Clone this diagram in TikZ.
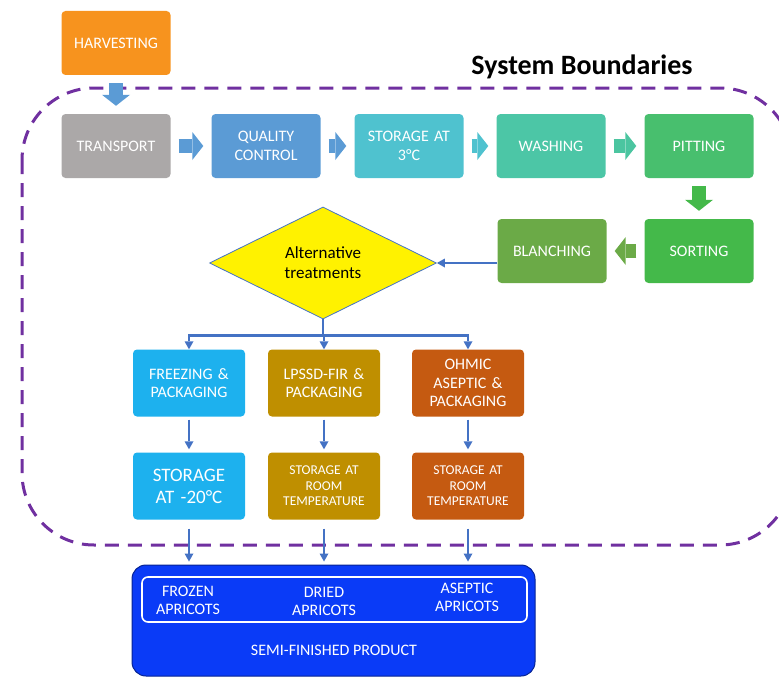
\documentclass[tikz,border=0pt]{standalone}
\usepackage{fontspec}
\setmainfont{Carlito}
\usetikzlibrary{positioning, shapes.geometric, arrows.meta, calc}

\definecolor{harvestOrange}{HTML}{F7931E}
\definecolor{transGray}{HTML}{ABA8A8}
\definecolor{qcBlue}{HTML}{5B9BD5}
\definecolor{coldCyan}{HTML}{4FC2CF}
\definecolor{washTeal}{HTML}{4CC6A6}
\definecolor{pitGreen}{HTML}{48BF6E}
\definecolor{sortGreen}{HTML}{44B94A}
\definecolor{blanchGreen}{HTML}{6BAA47}
\definecolor{freezeBlue}{HTML}{1DB1EE}
\definecolor{dryOchre}{HTML}{BF8F00}
\definecolor{ohmicRust}{HTML}{C55A11}
\definecolor{linkBlue}{HTML}{4472C4}
\definecolor{productBlue}{HTML}{0A3BF7}
\definecolor{boundPurple}{HTML}{7030A0}

\tikzset{
  stage/.style={rectangle, rounded corners=4pt, minimum width=109pt, minimum height=64pt,
    text width=106pt, align=center, text=white, inner sep=1pt,
    font=\fontsize{16}{18.5}\selectfont},
  wide/.style={minimum width=112pt, minimum height=67pt, text width=110pt},
  flow/.style={line width=14pt, shorten <=8pt, shorten >=8pt,
    -{Triangle[length=11pt, width=28pt, line width=0pt]}},
  link/.style={draw=linkBlue, line width=2.2pt,
    -{Triangle[length=8pt, width=9pt, line width=0pt]}},
  boundary/.style={draw=boundPurple, line width=3pt, dash pattern=on 14pt off 9pt,
    rounded corners=72pt},
  label/.style={align=center, text=white, font=\fontsize{16}{18}\selectfont},
}

\begin{document}
\begin{tikzpicture}[x=1pt, y=-1pt, node distance=145pt, on grid]
    \useasboundingbox (0,0) rectangle (779,677);
    \draw[boundary] (22,88) rectangle (792,545);
    \node[font=\fontsize{28}{32}\selectfont\bfseries] (title) at (582,67) {System Boundaries};

    % first row
    \node[stage, fill=harvestOrange] (harvest) at (116,43) {HARVESTING};
    \node[stage, fill=transGray] (transport) [below=103pt of harvest] {TRANSPORT};
    \node[stage, fill=qcBlue] (quality) [right=150pt of transport] {QUALITY\\CONTROL};
    \node[stage, fill=coldCyan] (cold) [right=143pt of quality] {STORAGE AT\\3°C};
    \node[stage, fill=washTeal] (washing) [right=142pt of cold] {WASHING};
    \node[stage, fill=pitGreen] (pitting) [right=148pt of washing] {PITTING};
    \node[stage, fill=sortGreen] (sorting) [below=105pt of pitting] {SORTING};
    \node[stage, fill=blanchGreen] (blanching) [left=147pt of sorting] {BLANCHING};

    \node[diamond, fill=yellow, draw=linkBlue, line width=0.8pt, aspect=2.03,
          minimum width=227pt, minimum height=112pt, inner sep=0pt, align=center,
          font=\fontsize{17}{20}\selectfont] (alt) at (323,263) {Alternative\\treatments};

    % treatments
    \node[stage, wide, fill=freezeBlue] (freeze) at (189,383) {FREEZING \&\\PACKAGING};
    \node[stage, wide, fill=dryOchre] (lpssd) [right=135pt of freeze] {LPSSD-FIR \&\\PACKAGING};
    \node[stage, wide, fill=ohmicRust] (ohmic) [right=144pt of lpssd] {OHMIC\\ASEPTIC \&\\PACKAGING};
    \node[stage, wide, fill=freezeBlue, font=\fontsize{19}{22}\selectfont] (frozenStore) [below=103pt of freeze] {STORAGE\\AT -20°C};
    \node[stage, wide, fill=dryOchre, font=\fontsize{13.5}{15.5}\selectfont] (dryStore) [below=103pt of lpssd] {STORAGE AT\\ROOM\\TEMPERATURE};
    \node[stage, wide, fill=ohmicRust, font=\fontsize{13.5}{15.5}\selectfont] (asepticStore) [below=103pt of ohmic] {STORAGE AT\\ROOM\\TEMPERATURE};

    % product
    \node[rectangle, rounded corners=14pt, fill=productBlue, draw=productBlue!60!black,
          line width=1pt, minimum width=403pt, minimum height=111pt] (product) at (333.5,620.5) {};
    \node[rectangle, rounded corners=6pt, draw=white, line width=1.6pt,
          minimum width=385pt, minimum height=45pt] (frame) at (334.5,599.5) {};
    \node[label] (frozen) at (188,600) {FROZEN\\APRICOTS};
    \node[label] (dried) at (324,601) {DRIED\\APRICOTS};
    \node[label] (aseptic) at (467,597) {ASEPTIC\\APRICOTS};
    \node[label] (semi) at (334,650) {SEMI-FINISHED PRODUCT};

    % block arrows
    \draw[flow, qcBlue] (harvest) -- (transport);
    \draw[flow, qcBlue] (transport) -- (quality);
    \draw[flow, qcBlue] (quality) -- (cold);
    \draw[flow, coldCyan] (cold) -- (washing);
    \draw[flow, washTeal!90!pitGreen] (washing) -- (pitting);
    \draw[flow, sortGreen] (pitting) -- (sorting);
    \draw[flow, blanchGreen] (sorting) -- (blanching);

    % thin arrows
    \draw[link] (alt.east -| blanching.west) -- (alt.east);
    \coordinate (split) at ($(alt.south)+(0,16)$);
    \draw[link, -] (alt.south) -- (split);
    \draw[link] (split) -| (freeze.north);
    \draw[link] (split) -| (lpssd.north);
    \draw[link] (split) -| (ohmic.north);
    \draw[link, shorten <=3pt, shorten >=3pt] (freeze) -- (frozenStore);
    \draw[link, shorten <=3pt, shorten >=3pt] (lpssd) -- (dryStore);
    \draw[link, shorten <=3pt, shorten >=3pt] (ohmic) -- (asepticStore);
    \draw[link, shorten <=9pt, shorten >=3pt] (frozenStore.south) -- (frozenStore.south |- product.north);
    \draw[link, shorten <=9pt, shorten >=3pt] (dryStore.south) -- (dryStore.south |- product.north);
    \draw[link, shorten <=9pt, shorten >=3pt] (asepticStore.south) -- (asepticStore.south |- product.north);
\end{tikzpicture}
\end{document}
